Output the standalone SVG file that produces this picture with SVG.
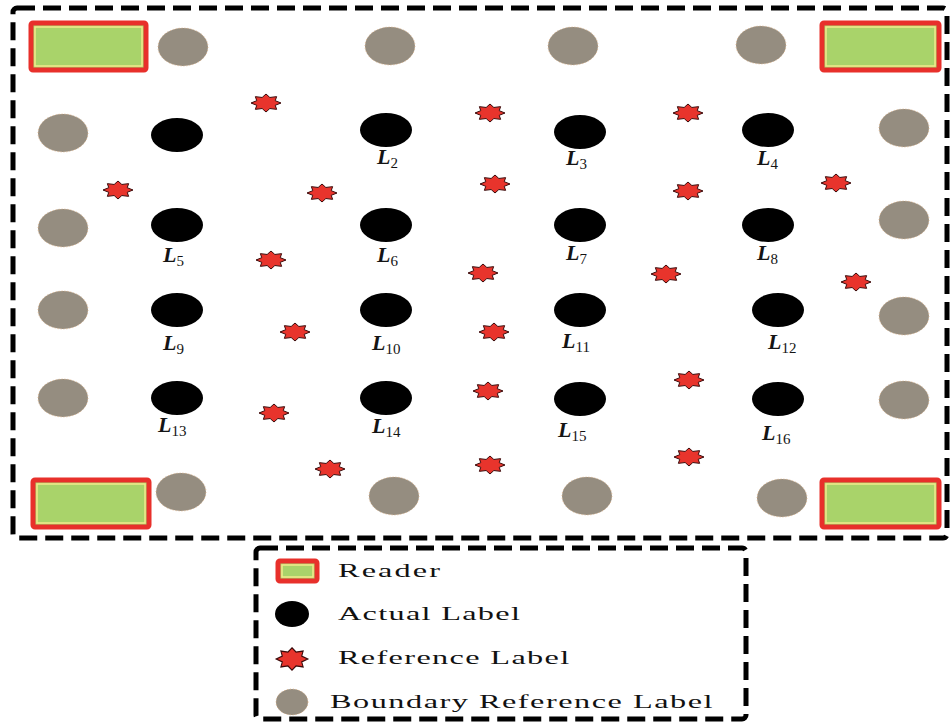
<svg xmlns="http://www.w3.org/2000/svg" xmlns:xlink="http://www.w3.org/1999/xlink" width="951" height="724" viewBox="0 0 951 724">
<style>
.border{fill:none;stroke:#000;stroke-width:5;stroke-dasharray:18 8}
.rd{fill:#a9d36a;stroke:#e8302b;stroke-width:5}
.rdin{fill:none;stroke:#f2ea8c;stroke-width:1.5}
.bnd{fill:#958d80;stroke:#e0b080;stroke-width:0.8;stroke-dasharray:1 2}
.act{fill:#000}
.ref{fill:#e8342c;stroke:#3a0a0a;stroke-width:1}
.lbl{font-family:"Liberation Serif","DejaVu Serif",serif;fill:#141414}
.L{font-style:italic;font-size:22px;font-weight:bold}
.sub{font-size:15px}
.leg{font-family:"Liberation Serif","Times New Roman",serif;font-size:19px;fill:#111}
</style>
<defs>
<path id="star" d="M0,-9 L3.83,-5.54 L10.61,-6.36 L9.24,-2.3 L15,0 L9.24,2.3 L10.61,6.36 L3.83,5.54 L0,9 L-3.83,5.54 L-10.61,6.36 L-9.24,2.3 L-15,0 L-9.24,-2.3 L-10.61,-6.36 L-3.83,-5.54 Z"/>
</defs>
<rect width="951" height="724" fill="#fff"/>
<rect class="border" x="13" y="8" width="934" height="530" rx="4"/>

<g id="readers">
<g id="reader-tl"><rect class="rd" x="31" y="23" width="115" height="47" rx="2"/><rect class="rdin" x="35" y="27" width="107" height="39"/></g>
<g id="reader-tr"><rect class="rd" x="822" y="23" width="117" height="47" rx="2"/><rect class="rdin" x="826" y="27" width="109" height="39"/></g>
<g id="reader-bl"><rect class="rd" x="33" y="480" width="116" height="47" rx="2"/><rect class="rdin" x="37" y="484" width="108" height="39"/></g>
<g id="reader-br"><rect class="rd" x="822" y="480" width="117" height="47" rx="2"/><rect class="rdin" x="826" y="484" width="109" height="39"/></g>
</g>

<g id="boundary">
<ellipse class="bnd" cx="183" cy="47" rx="25" ry="19"/>
<ellipse class="bnd" cx="390" cy="46" rx="25" ry="19"/>
<ellipse class="bnd" cx="573" cy="46" rx="25" ry="19"/>
<ellipse class="bnd" cx="761" cy="45" rx="25" ry="19"/>
<ellipse class="bnd" cx="63" cy="133" rx="25" ry="19"/>
<ellipse class="bnd" cx="63" cy="228" rx="25" ry="19"/>
<ellipse class="bnd" cx="63" cy="310" rx="25" ry="19"/>
<ellipse class="bnd" cx="63" cy="398" rx="25" ry="19"/>
<ellipse class="bnd" cx="904" cy="128" rx="25" ry="19"/>
<ellipse class="bnd" cx="904" cy="220" rx="25" ry="19"/>
<ellipse class="bnd" cx="904" cy="316" rx="25" ry="19"/>
<ellipse class="bnd" cx="904" cy="400" rx="25" ry="19"/>
<ellipse class="bnd" cx="181" cy="492" rx="25" ry="19"/>
<ellipse class="bnd" cx="394" cy="496" rx="25" ry="19"/>
<ellipse class="bnd" cx="587" cy="496" rx="25" ry="19"/>
<ellipse class="bnd" cx="782" cy="498" rx="25" ry="19"/>
</g>

<g id="actual">
<g id="L1"><ellipse class="act" cx="177" cy="135" rx="26" ry="17"/></g>
<g id="L2"><ellipse class="act" cx="386" cy="130" rx="26" ry="17"/><text class="lbl" x="377" y="164"><tspan class="L">L</tspan><tspan class="sub" dy="4">2</tspan></text></g>
<g id="L3"><ellipse class="act" cx="580" cy="132" rx="26" ry="17"/><text class="lbl" x="566" y="165"><tspan class="L">L</tspan><tspan class="sub" dy="4">3</tspan></text></g>
<g id="L4"><ellipse class="act" cx="768" cy="130" rx="26" ry="17"/><text class="lbl" x="757" y="165"><tspan class="L">L</tspan><tspan class="sub" dy="4">4</tspan></text></g>
<g id="L5"><ellipse class="act" cx="177" cy="225" rx="26" ry="17"/><text class="lbl" x="163" y="262"><tspan class="L">L</tspan><tspan class="sub" dy="4">5</tspan></text></g>
<g id="L6"><ellipse class="act" cx="386" cy="225" rx="26" ry="17"/><text class="lbl" x="377" y="262"><tspan class="L">L</tspan><tspan class="sub" dy="4">6</tspan></text></g>
<g id="L7"><ellipse class="act" cx="580" cy="225" rx="26" ry="17"/><text class="lbl" x="566" y="260"><tspan class="L">L</tspan><tspan class="sub" dy="4">7</tspan></text></g>
<g id="L8"><ellipse class="act" cx="768" cy="225" rx="26" ry="17"/><text class="lbl" x="757" y="260"><tspan class="L">L</tspan><tspan class="sub" dy="4">8</tspan></text></g>
<g id="L9"><ellipse class="act" cx="177" cy="310" rx="26" ry="17"/><text class="lbl" x="163" y="350"><tspan class="L">L</tspan><tspan class="sub" dy="4">9</tspan></text></g>
<g id="L10"><ellipse class="act" cx="386" cy="310" rx="26" ry="17"/><text class="lbl" x="372" y="350"><tspan class="L">L</tspan><tspan class="sub" dy="4">10</tspan></text></g>
<g id="L11"><ellipse class="act" cx="580" cy="310" rx="26" ry="17"/><text class="lbl" x="562" y="348"><tspan class="L">L</tspan><tspan class="sub" dy="4">11</tspan></text></g>
<g id="L12"><ellipse class="act" cx="778" cy="310" rx="26" ry="17"/><text class="lbl" x="768" y="349"><tspan class="L">L</tspan><tspan class="sub" dy="4">12</tspan></text></g>
<g id="L13"><ellipse class="act" cx="177" cy="398" rx="26" ry="17"/><text class="lbl" x="158" y="432"><tspan class="L">L</tspan><tspan class="sub" dy="4">13</tspan></text></g>
<g id="L14"><ellipse class="act" cx="386" cy="398" rx="26" ry="17"/><text class="lbl" x="372" y="433"><tspan class="L">L</tspan><tspan class="sub" dy="4">14</tspan></text></g>
<g id="L15"><ellipse class="act" cx="580" cy="399" rx="26" ry="17"/><text class="lbl" x="558" y="437"><tspan class="L">L</tspan><tspan class="sub" dy="4">15</tspan></text></g>
<g id="L16"><ellipse class="act" cx="778" cy="399" rx="26" ry="17"/><text class="lbl" x="762" y="440"><tspan class="L">L</tspan><tspan class="sub" dy="4">16</tspan></text></g>
</g>

<g id="reference">
<use href="#star" class="ref" x="266" y="103"/>
<use href="#star" class="ref" x="490" y="113"/>
<use href="#star" class="ref" x="688" y="113"/>
<use href="#star" class="ref" x="118" y="190"/>
<use href="#star" class="ref" x="322" y="193"/>
<use href="#star" class="ref" x="495" y="184"/>
<use href="#star" class="ref" x="688" y="191"/>
<use href="#star" class="ref" x="836" y="183"/>
<use href="#star" class="ref" x="271" y="260"/>
<use href="#star" class="ref" x="483" y="273"/>
<use href="#star" class="ref" x="666" y="274"/>
<use href="#star" class="ref" x="856" y="282"/>
<use href="#star" class="ref" x="295" y="332"/>
<use href="#star" class="ref" x="494" y="332"/>
<use href="#star" class="ref" x="488" y="391"/>
<use href="#star" class="ref" x="689" y="380"/>
<use href="#star" class="ref" x="274" y="413"/>
<use href="#star" class="ref" x="330" y="469"/>
<use href="#star" class="ref" x="490" y="465"/>
<use href="#star" class="ref" x="689" y="457"/>
</g>

<g id="legend">
<rect class="border" x="256" y="548" width="490" height="171" rx="4"/>
<g id="leg-reader"><rect class="rd" x="278" y="561" width="39" height="20" rx="2"/><rect class="rdin" x="282" y="565" width="31" height="12"/>
<text class="leg" transform="translate(338,577) scale(1.7,1)" textLength="60" lengthAdjust="spacing">Reader</text></g>
<g id="leg-actual"><ellipse class="act" cx="292" cy="614" rx="17" ry="13"/>
<text class="leg" transform="translate(338,620) scale(1.7,1)" textLength="107" lengthAdjust="spacing">Actual Label</text></g>
<g id="leg-ref"><use href="#star" class="ref" transform="translate(292,659) scale(1.05,1.25)"/>
<text class="leg" transform="translate(338,664) scale(1.7,1)" textLength="136" lengthAdjust="spacing">Reference Label</text></g>
<g id="leg-bnd"><ellipse class="bnd" cx="292" cy="702" rx="16" ry="13"/>
<text class="leg" transform="translate(330,708) scale(1.7,1)" textLength="225" lengthAdjust="spacing">Boundary Reference Label</text></g>
</g>
</svg>
